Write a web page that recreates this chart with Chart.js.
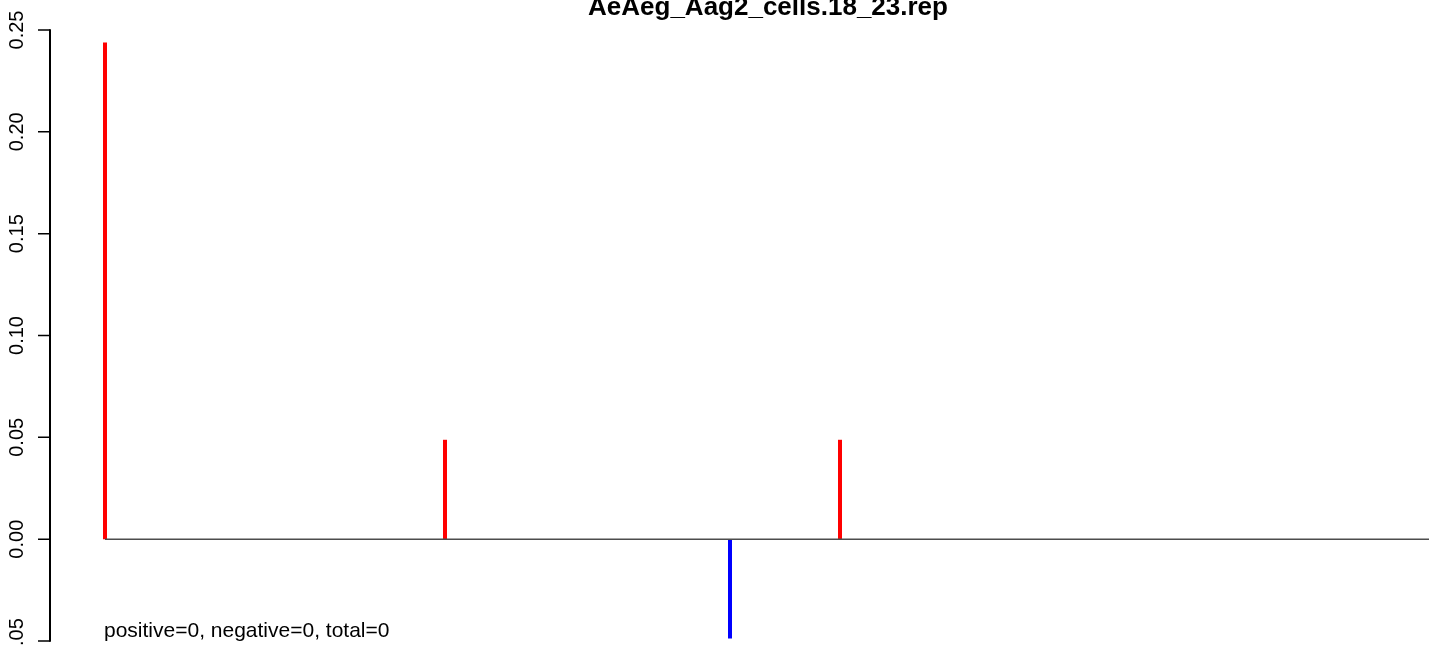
<!DOCTYPE html>
<html>
<head>
<meta charset="utf-8">
<script src="https://cdn.jsdelivr.net/npm/chart.js@4.4.1/dist/chart.umd.min.js"></script>
<style>
  html, body { margin: 0; padding: 0; background: #fff; }
  #wrap { width: 1429px; height: 645px; position: relative; }
</style>
</head>
<body>
<div id="wrap"><canvas id="chart"></canvas></div>
<script>
// dados
const chartTitle = 'AeAeg_Aag2_cells.18_23.rep';
const footText = 'positive=0, negative=0, total=0';
const positivePos = [1, 69, 148];
const positiveVal = [0.2439, 0.0488, 0.0488];
const negativePos = [126];
const negativeVal = [-0.0488];
const baselineRange = [1, 300];
const yTicks = [-0.05, 0.00, 0.05, 0.10, 0.15, 0.20, 0.25];
const yTickLabels = ['-0.05', '0.00', '0.05', '0.10', '0.15', '0.20', '0.25'];

const FONT = '"Liberation Sans", Arial, sans-serif';

// uma "haste" por valor (type="h" do R)
function sticks(pos, vals, color) {
    return pos.map((x, i) => ({
        data: [{ x: x, y: 0 }, { x: x, y: vals[i] }],
        borderColor: color,
        borderWidth: 4,
        borderCapStyle: 'butt',
        pointRadius: 0,
        tension: 0
    }));
}

const datasets = [
    {
        data: [{ x: baselineRange[0], y: 0 }, { x: baselineRange[1], y: 0 }],
        borderColor: '#4d4d4d',
        borderWidth: 1.5,
        pointRadius: 0
    },
    ...sticks(positivePos, positiveVal, '#ff0000'),
    ...sticks(negativePos, negativeVal, '#0000ff')
];

// eixo Y e textos no estilo R
const rAxis = {
    id: 'rAxis',
    afterDraw(chart) {
        const { ctx, scales: { x, y } } = chart;
        const ax = 50;
        ctx.save();
        ctx.strokeStyle = '#000';
        ctx.lineWidth = 2;
        ctx.beginPath();
        ctx.moveTo(ax, y.getPixelForValue(yTicks[yTicks.length - 1]) - 0.75);
        ctx.lineTo(ax, y.getPixelForValue(yTicks[0]) + 0.75);
        ctx.stroke();
        ctx.lineWidth = 1.5;
        ctx.beginPath();
        yTicks.forEach(t => {
            const py = y.getPixelForValue(t);
            ctx.moveTo(ax, py);
            ctx.lineTo(ax - 12, py);
        });
        ctx.stroke();

        ctx.fillStyle = '#000';
        ctx.font = '20px ' + FONT;
        ctx.textAlign = 'center';
        ctx.textBaseline = 'alphabetic';
        yTicks.forEach((t, i) => {
            ctx.save();
            ctx.translate(22.5, y.getPixelForValue(t));
            ctx.rotate(-Math.PI / 2);
            ctx.fillText(yTickLabels[i], 0, 0);
            ctx.restore();
        });

        ctx.font = '21px ' + FONT;
        ctx.textAlign = 'left';
        ctx.fillText(footText, x.getPixelForValue(positivePos[0]) - 1, 637);

        ctx.font = 'bold 26px ' + FONT;
        ctx.textAlign = 'center';
        ctx.fillText(chartTitle, 768, 15);
        ctx.restore();
    }
};

new Chart(document.getElementById('chart'), {
    type: 'line',
    data: { datasets: datasets },
    options: {
        responsive: true,
        maintainAspectRatio: false,
        animation: false,
        layout: { padding: { top: 30, bottom: 4, left: 50, right: 0 } },
        scales: {
            x: { type: 'linear', min: -10, max: 265.8, display: false },
            y: { type: 'linear', min: -0.05, max: 0.25, display: false }
        },
        plugins: {
            legend: { display: false },
            tooltip: { enabled: false }
        }
    },
    plugins: [rAxis]
});
</script>
</body>
</html>
